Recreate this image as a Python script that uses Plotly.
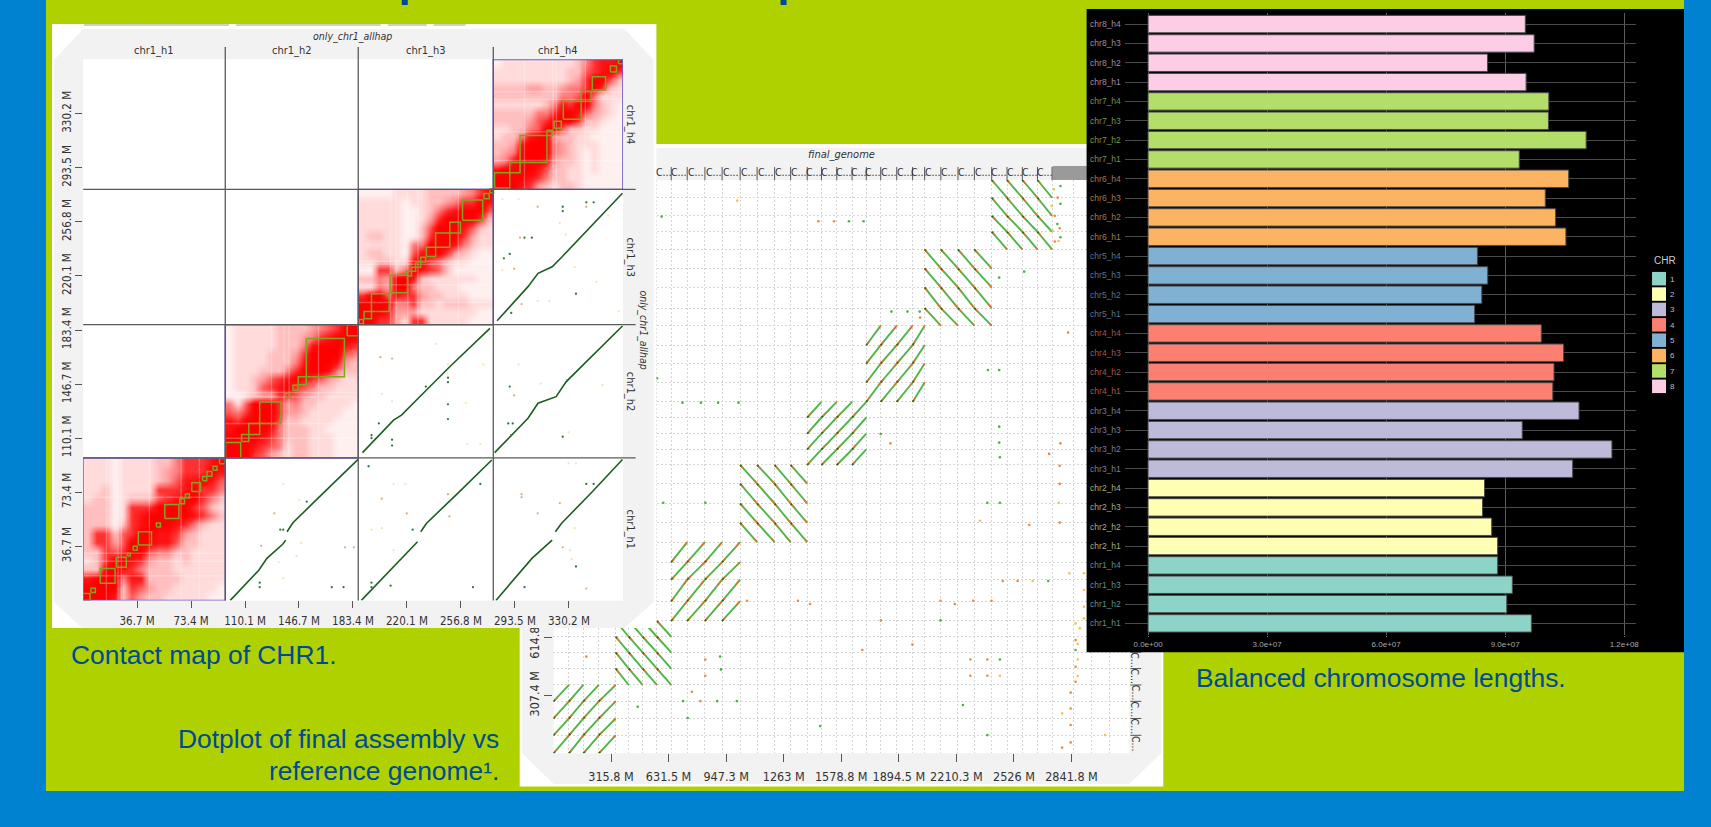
import plotly.graph_objects as go

W, H = 1711, 827
BLUE = "#0082d1"
LIME = "#afd100"
INK = "#004a94"
COND = "DejaVu Sans Condensed"

# ---------- chromosome lengths (bp) per haplotype h1..h4 ----------
chr1_len = [9.66e7, 9.04e7, 9.18e7, 8.81e7]
chr2_len = [8.81e7, 8.66e7, 8.43e7, 8.48e7]
chr3_len = [10.70e7, 11.69e7, 9.43e7, 10.86e7]
chr4_len = [10.20e7, 10.23e7, 10.47e7, 9.91e7]
chr5_len = [8.23e7, 8.41e7, 8.56e7, 8.30e7]
chr6_len = [10.53e7, 10.27e7, 10.01e7, 10.60e7]
chr7_len = [9.355e7, 11.04e7, 10.09e7, 10.10e7]
chr8_len = [9.527e7, 8.554e7, 9.73e7, 9.507e7]
all_len = [chr1_len, chr2_len, chr3_len, chr4_len, chr5_len, chr6_len, chr7_len, chr8_len]
set3 = ["#8dd3c7", "#ffffb3", "#bebada", "#fb8072", "#80b1d3", "#fdb462", "#b3de69", "#fccde5"]
set3_dim = ["#5f8e86", "#acac78", "#807d93", "#a9564d", "#56778e", "#aa7942", "#789547", "#aa8a9a"]
len_ticks = [0, 3e7, 6e7, 9e7, 1.2e8]
len_tick_text = ["0.0e+00", "3.0e+07", "6.0e+07", "9.0e+07", "1.2e+08"]

# ---------- contact map ----------
hap_names = ["chr1_h1", "chr1_h2", "chr1_h3", "chr1_h4"]
contact_ticks = [36.7, 73.4, 110.1, 146.7, 183.4, 220.1, 256.8, 293.5, 330.2]
contact_tick_text = ["36.7 M", "73.4 M", "110.1 M", "146.7 M", "183.4 M", "220.1 M", "256.8 M", "293.5 M", "330.2 M"]
# intensity 0-9, rows written top to bottom as seen
hic_h1 = ["2221222233577789", "2221222234577798", "2221222234688986", "2231222277789775",
          "2331233367899753", "3331277799997632", "3331278999998753", "3331378999875322",
          "3773679988743222", "3774699988633222", "3376799655332222", "2379987433232222",
          "3399875333222222", "8999588333322222", "9999376433222221", "9998364332222211"]
hic_h2 = ["1222223333456799", "1222223334578999", "1222223335899987", "1222233347999965",
          "1222233358999843", "1222333579998533", "1223467898764322", "1223678976533222",
          "1123447764332222", "5269997453322221", "6579997443222211", "8799996332222111",
          "8999985333221111", "9999875333222111", "9998765233222111", "9997643233222111"]
hic_h3 = ["1111222233334579", "2222212233457798", "2222211235789996", "2222211247999973",
          "2222211369998632", "2332211379997422", "2222215599985322", "2332216899743211",
          "2233228965322111", "1177359876311111", "3354998322222211", "2254995332221111",
          "7996877433222111", "9999557332333222", "9998444222222211", "9977427722222111"]
hic_h4 = ["1222222222357889", "2222222223367897", "2222222223479963", "3333443345579732",
          "3333333355695222", "2222223587995321", "3333355799864321", "3333467999733211",
          "2233569963322111", "2335899433221111", "3348999543222111", "3459999543212111",
          "4589998433212111", "8999986332212111", "9999875332211111", "9998743233211111"]
hic_maps = [hic_h1, hic_h2, hic_h3, hic_h4]
hic_scale = [[0, "#ffffff"], [0.11, "#fff0f0"], [0.22, "#ffdcdc"], [0.33, "#ffc0c0"], [0.44, "#ffa0a0"],
             [0.56, "#ff7c7c"], [0.67, "#ff5858"], [0.78, "#ff3030"], [0.89, "#ff1212"], [1, "#ff0000"]]
# pale low-coverage streaks seen in each map (Mb)
streak_v_h1 = [15.8, 23.7, 26, 45, 66.6, 79]
streak_h_h1 = [16.7, 26.6, 32, 70]
streak_v_h2 = [136.6, 140, 128, 160]
streak_h_h2 = [138, 141, 120, 110]
streak_v_h3 = [209, 212.8, 220.7, 227.6, 255]
streak_h_h3 = [202, 214, 228, 230]
streak_v_h4 = [319.4, 321.7, 341.4, 300]
streak_h_h4 = [298.4, 317.9, 339.8, 345]
streaks_v = [streak_v_h1, streak_v_h2, streak_v_h3, streak_v_h4]
streaks_h = [streak_h_h1, streak_h_h2, streak_h_h3, streak_h_h4]

# green domain boxes along the diagonal (Mb)
box_start = [0, 5.3, 11.6, 22.5, 30.1, 34, 37.5, 49.8, 55.5, 65.6, 69.5, 73.8, 81.2, 84.2, 88.3, 92.7,
             96.8, 107.7, 112.6, 120, 137.7, 142.6, 146.2, 151.7, 179.5,
             187.7, 191, 196, 208.7, 220, 223.2, 226, 229.5, 233.3, 239.6, 249.2, 257.9, 272.4, 276.5,
             279.7, 290, 297, 315.3, 320.2, 326.4, 338.5, 346.1, 358.4, 363.9]
box_end = [4.7, 8.3, 21.7, 29.3, 32, 36.7, 46.5, 52.5, 65.1, 68.9, 72.2, 79.8, 84, 87.5, 91, 96.2,
           107.1, 112.6, 120, 134.5, 140.5, 146, 151.7, 177.6, 187,
           190.5, 196, 208, 220.5, 223.2, 226, 229.5, 232.8, 239.6, 249.2, 256.5, 271.6, 276, 279,
           290, 297, 315.3, 318.8, 325, 338.5, 345.3, 355.1, 362.5, 366.9]

# synteny traces between haplotypes (Mb), None = gap
syn_x = [100, 119.4, 124.9, 135.8, 137.7, None, 138.6, 142.6, 161.8, 186.9, None,
         189.1, 212.3, 216.4, 227.3, None, 229.5, 233.3, 254.6, 277.8, None,
         280.6, 299.7, 305.1, 318.8, None, 321, 325.1, 346.1, 366.6, None,
         189.9, 211, 216.4, 227.3, 230, 249.2, 276.5, None,
         279.7, 302.4, 309.2, 321.5, 328.4, 366.6, None,
         281.4, 302.4, 309.2, 318.8, 325.6, 366.6]
syn_y = [0, 20.5, 28.5, 38.2, 40.9, None, 46.6, 52.7, 71.4, 95.6, None,
         0, 24, 28.5, 39.8, None, 46.6, 52.2, 72.6, 95.2, None,
         0, 21.7, 28.5, 40.9, None, 46.6, 52.2, 73.7, 95.6, None,
         100.2, 122.3, 125.7, 137, 139.3, 158.5, 184.5, None,
         100.2, 123.5, 133.7, 138.2, 148.4, 186.1, None,
         189.7, 212.8, 221.8, 226.3, 233.1, 276.1]

sparse_dark_x = [201, 210, 210, 196, 196, 233, 248, 248, 248, 248, 290, 289, 292, 291, 152, 134, 136, 120, 120, 169, 177,
                 194, 196, 196, 209, 224, 300, 342, 347, 335, 265, 270, 329, 326, 326, 326, 342, 347, 290, 286, 291, 300, 305, 335]
sparse_dark_y = [120, 109, 105, 112, 110, 145, 151, 148, 133, 123, 145, 120, 120, 112, 67, 48, 48, 9, 12, 9, 9,
                 91, 12, 9, 10, 48, 9, 79, 79, 23, 9, 79, 149, 111, 267, 264, 270, 270, 235, 232, 195, 246, 246, 208]
sparse_orange_x = [202, 210, 121, 130, 178, 184, 220, 203, 248, 249, 309, 324, 326, 342, 293, 298, 298, 309, 297, 293, 298, 342]
sparse_orange_y = [165, 164, 37, 59, 36, 36, 59, 69, 72, 57, 59, 66, 36, 8, 139, 72, 70, 267, 246, 225, 201, 267]
sparse_pale_x = [136, 147, 136, 145, 133, 148, 211, 219, 203, 211, 196, 210, 203, 260, 240, 248, 272, 296, 311, 353, 330, 261, 270,
                 330, 335, 332, 334, 331, 285, 296, 324, 328, 357, 334, 349, 309, 317, 364, 285]
sparse_pale_y = [79, 68, 15, 30, 26, 39, 79, 79, 49, 34, 48, 135, 140, 134, 174, 160, 160, 160, 147, 146, 114, 106, 106,
                 93, 93, 28, 49, 34, 272, 272, 256, 248, 261, 226, 216, 203, 203, 196, 224]

# ---------- whole-genome dotplot ----------
dot_x_ticks = [315.8, 631.5, 947.3, 1263, 1578.8, 1894.5, 2210.3, 2526, 2841.8]
dot_x_text = ["315.8 M", "631.5 M", "947.3 M", "1263 M", "1578.8 M", "1894.5 M", "2210.3 M", "2526 M", "2841.8 M"]
dot_y_ticks = [307.4, 614.8]
dot_y_text = ["307.4 M", "614.8 M"]
dot_x_bounds = [[0, 85, 164, 249, 341], [341, 413, 489, 567.5, 646], [646, 733.6, 830.7, 925, 1024],
                [1024, 1117, 1213, 1301, 1392], [1392, 1470, 1554, 1638, 1716], [1716, 1795, 1883, 1970, 2036],
                [2036, 2125, 2219, 2309, 2404], [2404, 2488, 2572, 2655, 2735]]
dot_y_bounds = [[0, 95.8, 185.5, 276.6, 364], [364, 451.4, 537.3, 620.9, 705], [705, 810.3, 925.3, 1018.1, 1125],
                [1125, 1227.7, 1330.7, 1436.1, 1536], [1536, 1618.5, 1702.9, 1788.8, 1872],
                [1872, 1975.2, 2075.9, 2174, 2278], [2278, 2371.6, 2482, 2582.9, 2684],
                [2684, 2778.4, 2863.1, 2959.5, 3054]]
dot_dir = [1, -1, 1, -1, 1, 1, -1, -1]
dot_x_extra = [2850, 2950, 3050]

dots_green_x = [593, 1621, 1701, 708, 809, 903, 1015, 2781, 2781, 2764, 2781, 2582, 2445, 1942, 1854, 2009, 2383, 2445, 2445, 2445,
                1795, 568, 2449, 602, 833, 2380, 2449, 2714, 2123, 2449, 914, 919, 711, 898, 1006, 462, 2246, 1463, 2380, 736, 2864]
dots_green_y = [2859, 2834, 2834, 1868, 1868, 1868, 1868, 3022, 2927, 2820, 2749, 2566, 2534, 2353, 2353, 2353, 2042, 2042, 1740, 1655,
                1701, 1998, 1577, 1335, 1335, 1335, 1335, 918, 708, 500, 515, 447, 278, 278, 278, 248, 257, 145, 97, 188, 550]
dots_orange_x = [1453, 1539, 2766, 2750, 2777, 2750, 2011, 2823, 1848, 2781, 2719, 2777, 2777, 2777, 2610, 2465, 2546, 1062, 1341,
                 1408, 2123, 2202, 2303, 2403, 1796, 1969, 1694, 2287, 2380, 2287, 2380, 833, 833, 180, 759, 806, 2864, 2864, 2864,
                 2837, 2837, 2837, 2837, 2790]
dots_orange_y = [2834, 2834, 2960, 2863, 2797, 2726, 2321, 2241, 1651, 1651, 1595, 1532, 1435, 1229, 1216, 918, 918, 813, 813,
                 795, 813, 795, 813, 813, 708, 579, 550, 500, 500, 413, 413, 500, 413, 515, 328, 278, 603, 461, 381,
                 323, 239, 151, 58, 30]
dots_yellow_x = [1008, 2745, 2733, 2739, 2771, 2772, 2340, 2629, 2830, 2449, 3026, 2864, 2887, 2876, 2876, 2876, 2790, 2910, 2910, 2910, 2910]
dots_yellow_y = [2944, 3005, 2916, 2783, 2729, 1335, 1239, 918, 959, 413, 97, 692, 666, 582, 500, 412, 213, 959, 870, 781, 719]


def xp(v):
    return v / W


def yp(v):
    return 1 - v / H


def dom_x(a, b):
    return [xp(a), xp(b)]


def dom_y(top, bottom):
    return [yp(bottom), yp(top)]


fig = go.Figure()
shapes = []
annotations = []


def note(text, x, y, size=10, color="#333333", font=COND, xanchor="center", yanchor="middle", angle=0,
         xref="paper", yref="paper", align="center"):
    annotations.append(dict(text=text, x=x, y=y, xref=xref, yref=yref, xanchor=xanchor, yanchor=yanchor, align=align,
                            textangle=angle, showarrow=False, font=dict(size=size, color=color, family=font)))


def panel_path(pts):
    return "M " + " L ".join(f"{a},{b}" for a, b in pts) + " Z"


def pp(pts):
    return panel_path([(xp(a), yp(b)) for a, b in pts])


hidden = dict(visible=False, fixedrange=True)

# ---- poster background and dotplot panel (paper level, under every subplot) ----
shapes += [
    dict(type="rect", xref="paper", yref="paper", x0=xp(46), x1=xp(1685), y0=yp(791), y1=yp(0), fillcolor=LIME, line_width=0, layer="below"),
    dict(type="rect", xref="paper", yref="paper", x0=xp(520), x1=xp(1164), y0=yp(786.5), y1=yp(144), fillcolor="#ffffff", line_width=0, layer="below"),
    dict(type="path", xref="paper", yref="paper",
         path=pp([(554, 148), (522, 180), (522, 753), (554, 784), (1130, 784), (1162, 753), (1162, 180), (1130, 148)]),
         fillcolor="#f2f2f2", line_width=0, layer="below"),
    dict(type="rect", xref="paper", yref="paper", x0=xp(554), x1=xp(1130), y0=yp(753.3), y1=yp(180), fillcolor="#ffffff", line_width=0, layer="below"),
    dict(type="rect", xref="paper", yref="paper", x0=xp(1053), x1=xp(1090), y0=yp(180), y1=yp(166), fillcolor="#9a9a9a", line_width=0, layer="below"),
    dict(type="rect", xref="paper", yref="paper", x0=xp(402), x1=xp(408), y0=yp(5), y1=yp(0), fillcolor=INK, line_width=0, layer="below"),
    dict(type="rect", xref="paper", yref="paper", x0=xp(781), x1=xp(787), y0=yp(5), y1=yp(0), fillcolor=INK, line_width=0, layer="below"),
]

# ---- 1. dotplot (x / y) ----
all_x = [v for b in dot_x_bounds for v in b] + dot_x_extra
all_y = [v for b in dot_y_bounds for v in b]
seg_x, seg_y = [], []
for xb, yb, d in zip(dot_x_bounds, dot_y_bounds, dot_dir):
    for i in range(4):
        for j in range(4):
            seg_x += [xb[j], xb[j + 1], None]
            seg_y += ([yb[i], yb[i + 1], None] if d > 0 else [yb[i + 1], yb[i], None])
fig.add_trace(go.Scatter(x=seg_x, y=seg_y, mode="lines", line=dict(color="#4fb548", width=1.9), hoverinfo="skip"))
fig.add_trace(go.Scatter(x=seg_x, y=seg_y, mode="lines", line=dict(color="#ee6f22", width=1.5, dash="5px,16px"), hoverinfo="skip"))
fig.add_trace(go.Scatter(x=seg_x, y=seg_y, mode="lines", line=dict(color="#1f6b24", width=1.5, dash="2px,47px"), hoverinfo="skip"))
for dx, dy, col in [(dots_yellow_x, dots_yellow_y, "#f5c542"), (dots_orange_x, dots_orange_y, "#ee8a3c"), (dots_green_x, dots_green_y, "#49b04a")]:
    fig.add_trace(go.Scatter(x=dx, y=dy, mode="markers", marker=dict(color=col, size=2.6), hoverinfo="skip"))

grid_style = dict(showgrid=True, gridcolor="#d6d6d6", griddash="2px,2px", gridwidth=0.8, ticklen=0)
fig.update_layout(
    xaxis=dict(domain=dom_x(553.8, 1130), range=[0, 3159], anchor="y", showgrid=False, zeroline=False, fixedrange=True,
               tickmode="array", tickvals=dot_x_ticks, ticktext=dot_x_text, ticks="outside", ticklen=8, tickcolor="#555555",
               tickfont=dict(size=12.5, color="#333333", family=COND), ticklabelstandoff=4,
               minor=dict(tickmode="array", tickvals=all_x, **grid_style)),
    yaxis=dict(domain=dom_y(180, 753.3), range=[0, 3054], anchor="x", showgrid=False, zeroline=False, fixedrange=True,
               tickmode="array", tickvals=dot_y_ticks, ticktext=dot_y_text, ticks="outside", ticklen=8, tickcolor="#555555", tickangle=-90,
               tickfont=dict(size=12.5, color="#333333", family=COND), ticklabelstandoff=0,
               minor=dict(tickmode="array", tickvals=all_y, **grid_style)),
)
note("final_genome", xp(842), yp(155), size=11, font=COND + ", DejaVu Sans")
annotations[-1]["font"]["style"] = "italic"

for b, xb in enumerate(dot_x_bounds):
    for j in range(4):
        mid = (xb[j] + xb[j + 1]) / 2
        if mid > 600:
            note("C...", mid, yp(172), size=10.5, xref="x")
        if xb[j + 1] > 640:
            shapes.append(dict(type="line", xref="x", yref="paper", x0=xb[j + 1], x1=xb[j + 1], y0=yp(180), y1=yp(167),
                               line=dict(color="#555555", width=1), layer="above"))
for yb in dot_y_bounds[:2]:
    for i in range(4):
        mid = (yb[i] + yb[i + 1]) / 2
        if mid < 540:
            note("C...", xp(1136), mid, size=10.5, yref="y", angle=90)
        if yb[i + 1] < 540:
            shapes.append(dict(type="line", xref="paper", yref="y", x0=xp(1131), x1=xp(1142), y0=yb[i + 1], y1=yb[i + 1],
                               line=dict(color="#555555", width=1), layer="above"))

# ---- 2. contact panel cover (x2 / y2), hides the dotplot underneath ----
fig.add_trace(go.Scatter(x=[None], y=[None], xaxis="x2", yaxis="y2", hoverinfo="skip"))
fig.update_layout(xaxis2=dict(domain=dom_x(52, 657), range=[52, 657], anchor="y2", **hidden),
                  yaxis2=dict(domain=dom_y(24, 628), range=[628, 24], anchor="x2", **hidden))
shapes += [
    dict(type="rect", xref="x2", yref="y2", x0=52, x1=657, y0=24, y1=628, fillcolor="#ffffff", line_width=0, layer="below"),
    dict(type="path", xref="x2", yref="y2",
         path=panel_path([(83, 29), (54, 60), (54, 602), (82, 628), (625, 628), (654, 602), (654, 60), (625, 29)]),
         fillcolor="#f2f2f2", line_width=0, layer="below"),
    dict(type="rect", xref="x2", yref="y2", x0=83.2, x1=623.4, y0=59.3, y1=600.8, fillcolor="#ffffff", line_width=0, layer="below"),
]
for a, b in [(84, 229), (236, 381), (388, 427), (434, 466)]:
    shapes.append(dict(type="rect", xref="paper", yref="paper", x0=xp(a), x1=xp(b), y0=yp(26), y1=yp(24),
                       fillcolor="#cfcfcf", line_width=0, layer="above"))

# ---- 3. contact map (x3 / y3) ----
edges = [0.0]
for v in chr1_len:
    edges.append(edges[-1] + v / 1e6)
st_x, st_y = [], []
for k, rows in enumerate(hic_maps):
    a, b = edges[k], edges[k + 1]
    step = (b - a) / 16
    z = [[int(c) for c in r] for r in reversed(rows)]
    fig.add_trace(go.Heatmap(z=z, x0=a + step / 2, dx=step, y0=a + step / 2, dy=step, xaxis="x3", yaxis="y3",
                             colorscale=hic_scale, zmin=0, zmax=9, showscale=False, zsmooth="best", hoverinfo="skip"))
    shapes.append(dict(type="rect", xref="x3", yref="y3", x0=a, x1=b, y0=a, y1=b, line=dict(color="#6a5acd", width=1.4), layer="above"))
    for v in streaks_v[k]:
        st_x += [v, v, None]
        st_y += [a, b, None]
    for v in streaks_h[k]:
        st_x += [a, b, None]
        st_y += [v, v, None]
fig.add_trace(go.Scatter(x=st_x, y=st_y, xaxis="x3", yaxis="y3", mode="lines", line=dict(color="rgba(255,255,255,0.26)", width=1.4), hoverinfo="skip"))
bx, by = [], []
for s, e in zip(box_start, box_end):
    bx += [s, e, e, s, s, None]
    by += [s, s, e, e, s, None]
fig.add_trace(go.Scatter(x=bx, y=by, xaxis="x3", yaxis="y3", mode="lines", line=dict(color="#7fa61e", width=1.5), hoverinfo="skip"))
fig.add_trace(go.Scatter(x=syn_x, y=syn_y, xaxis="x3", yaxis="y3", mode="lines", line=dict(color="#1c5e22", width=1.6), hoverinfo="skip"))
for dx, dy, col in [(sparse_pale_x, sparse_pale_y, "#f3e7b0"), (sparse_orange_x, sparse_orange_y, "#e2ac80"), (sparse_dark_x, sparse_dark_y, "#2f7a3a")]:
    fig.add_trace(go.Scatter(x=dx, y=dy, xaxis="x3", yaxis="y3", mode="markers", marker=dict(color=col, size=2.3), hoverinfo="skip"))
axis_common = dict(showgrid=False, zeroline=False, fixedrange=True, tickmode="array", tickvals=contact_ticks, ticktext=contact_tick_text,
                   ticks="outside", ticklen=7, tickcolor="#555555", tickfont=dict(size=11.5, color="#333333", family=COND))
fig.update_layout(xaxis3=dict(domain=dom_x(83.2, 623.4), range=[0, 367], anchor="y3", ticklabelstandoff=3, **axis_common),
                  yaxis3=dict(domain=dom_y(59.3, 600.4), range=[0, 367], anchor="x3", tickangle=-90, ticklabelstandoff=0, **axis_common))
for k, name in enumerate(hap_names):
    mid = (edges[k] + edges[k + 1]) / 2
    note(name, mid, yp(50.5), size=11, xref="x3")
    note(name, xp(631), mid, size=11, yref="y3", angle=90)
note("only_chr1_allhap", xp(353), yp(36), size=10.5, font=COND + ", DejaVu Sans")
annotations[-1]["font"]["style"] = "italic"
note("only_chr1_allhap", xp(644), yp(330), size=10.5, angle=90, font=COND + ", DejaVu Sans")
annotations[-1]["font"]["style"] = "italic"
for e in edges[1:4]:
    shapes.append(dict(type="line", xref="x3", yref="paper", x0=e, x1=e, y0=yp(600.4), y1=yp(47), line=dict(color="#5a5a5a", width=1.3), layer="above"))
    shapes.append(dict(type="line", xref="paper", yref="y3", x0=xp(83.2), x1=xp(636), y0=e, y1=e, line=dict(color="#5a5a5a", width=1.3), layer="above"))

# ---- 4. black panel cover (x4 / y4) ----
fig.add_trace(go.Scatter(x=[None], y=[None], xaxis="x4", yaxis="y4", hoverinfo="skip"))
fig.update_layout(xaxis4=dict(domain=dom_x(1087, 1685), range=[1087, 1685], anchor="y4", **hidden),
                  yaxis4=dict(domain=dom_y(9, 652.5), range=[652.5, 9], anchor="x4", **hidden))
shapes.append(dict(type="rect", xref="x4", yref="y4", x0=1087, x1=1685, y0=9, y1=652.5, fillcolor="#000000", line_width=0, layer="below"))

# ---- 5. chromosome length bars (x5 / y5) ----
names, values, colors, ticktext = [], [], [], []
for c, lens in enumerate(all_len):
    for h, v in enumerate(lens):
        n = f"chr{c + 1}_h{h + 1}"
        names.append(n)
        values.append(v)
        colors.append(set3[c])
        ticktext.append(f'<span style="color:{set3_dim[c]}">{n}</span>')
fig.add_trace(go.Bar(y=names, x=values, orientation="h", xaxis="x5", yaxis="y5", width=0.9,
                     marker=dict(color=colors, line=dict(color="#4a4a4a", width=1)), hoverinfo="skip"))
fig.update_layout(
    xaxis5=dict(domain=dom_x(1125.5, 1636.5), range=[-5.85e6, 1.2285e8], anchor="y5", fixedrange=True, zeroline=False,
                showgrid=True, gridcolor="#5c5c5c", gridwidth=1.1, tickmode="array", tickvals=len_ticks, ticktext=len_tick_text,
                ticks="outside", ticklen=1, tickcolor="#777777", tickfont=dict(size=8, color="#a8a8a8", family="Liberation Sans"), ticklabelstandoff=0),
    yaxis5=dict(domain=dom_y(12.5, 635), range=[-0.6, 31.6], anchor="x5", type="category", categoryorder="array", categoryarray=names,
                fixedrange=True, zeroline=False, showgrid=True, gridcolor="#4a4a4a", gridwidth=1.1,
                tickmode="array", tickvals=names, ticktext=ticktext, ticks="", tickfont=dict(size=8.5, family="Liberation Sans"), ticklabelstandoff=3),
)

# ---- 6. colour key (x6 / y6) ----
chr_ids = ["1", "2", "3", "4", "5", "6", "7", "8"]
fig.add_trace(go.Bar(y=chr_ids, x=[1] * 8, orientation="h", xaxis="x6", yaxis="y6", width=0.88,
                     marker=dict(color=set3, line_width=0), hoverinfo="skip"))
fig.update_layout(
    xaxis6=dict(domain=dom_x(1653, 1667), range=[0, 1], anchor="y6", **hidden),
    yaxis6=dict(domain=dom_y(271, 394), range=[7.5, -0.5], anchor="x6", type="category", categoryorder="array", categoryarray=chr_ids,
                side="right", showgrid=False, zeroline=False, fixedrange=True, ticks="", ticklabelstandoff=3,
                tickfont=dict(size=8, color="#bdbdbd", family="Liberation Sans")),
)
note("CHR", xp(1653), yp(260), size=10, color="#cccccc", font="Liberation Sans", xanchor="left")

# ---- captions ----
CAP = "Liberation Sans"
CAP_SIZE = 26.4
note("Contact map of CHR1.", xp(69), yp(655), size=CAP_SIZE, color=INK, font=CAP, xanchor="left")
note("Dotplot of final assembly vs", xp(501), yp(739), size=CAP_SIZE, color=INK, font=CAP, xanchor="right")
note("reference genome¹.", xp(501), yp(771), size=CAP_SIZE, color=INK, font=CAP, xanchor="right")
note("Balanced chromosome lengths.", xp(1195), yp(678), size=CAP_SIZE, color=INK, font=CAP, xanchor="left")

fig.update_layout(width=W + 3, height=H, margin=dict(l=0, r=0, t=0, b=0, pad=0), autosize=False, showlegend=False,
                  paper_bgcolor=BLUE, plot_bgcolor="rgba(0,0,0,0)", shapes=shapes, annotations=annotations, hovermode=False)

fig.write_html("out.html", config={"displayModeBar": False},
               post_script="document.body.style.margin='0';document.body.style.overflow='hidden';")
